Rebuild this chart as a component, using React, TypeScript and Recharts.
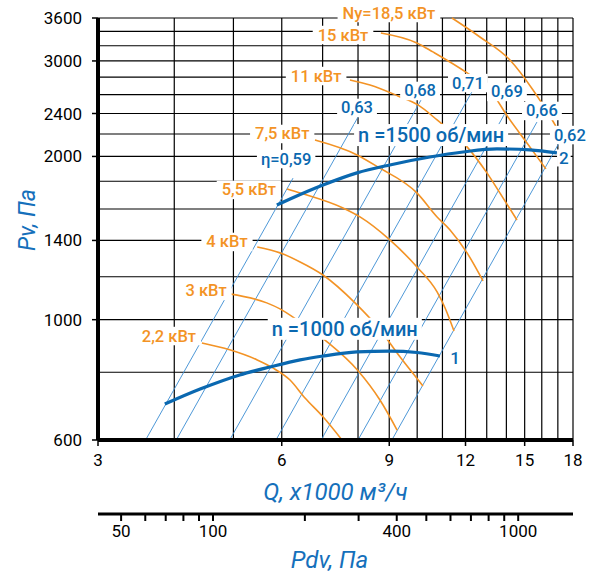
import React from 'react';
import { ComposedChart, Line, Scatter, XAxis, YAxis, CartesianGrid } from 'recharts';

// ---------- data ----------
const qTicks = [3, 6, 9, 12, 15, 18];
const pTicks = [600, 1000, 1400, 2000, 2400, 3000, 3600];
const qGrid = [3, 4, 5, 6, 7, 8, 9, 10, 11, 12, 13, 14, 15, 16, 17, 18];
const pGrid = [600, 800, 1000, 1200, 1400, 1600, 1800, 2000, 2200, 2400, 2600, 2800, 3000, 3200, 3400, 3600];
const pdvTicks = [50, 60, 70, 80, 90, 100, 200, 300, 400, 500, 600, 700, 800, 900, 1000];
const pdvLabeled = [50, 100, 400, 1000];
const qDomain = [3, 18];
const pDomain = [600, 3600];
const pdvDomain = [42, 1512];
const pdvExtent = [{ pdv: 42, p: 600 }, { pdv: 1512, p: 600 }];

// fan curves (Q x1000 m3/h, Pv Pa)
const curve1000 = [
  { q: 3.86, p: 699 }, { q: 4.41, p: 745 }, { q: 5.12, p: 791 }, { q: 5.74, p: 818 },
  { q: 6.43, p: 843 }, { q: 7.01, p: 857 }, { q: 7.97, p: 872 }, { q: 9.02, p: 875 },
  { q: 9.99, p: 870 }, { q: 10.9, p: 857 },
];
const curve1500 = [
  { q: 5.89, p: 1627 }, { q: 6.19, p: 1669 }, { q: 7.01, p: 1771 }, { q: 7.97, p: 1865 },
  { q: 9.02, p: 1929 }, { q: 10.49, p: 1995 }, { q: 11.89, p: 2038 }, { q: 13.51, p: 2065 },
  { q: 15.3, p: 2056 }, { q: 16.94, p: 2030 },
];

// power curves
const power22 = [
  { q: 4.44, p: 906 }, { q: 4.93, p: 880 }, { q: 5.47, p: 843 }, { q: 5.8, p: 815 },
  { q: 6.19, p: 774 }, { q: 6.55, p: 717 }, { q: 7.01, p: 662 }, { q: 7.53, p: 600 },
];
const power3 = [
  { q: 4.93, p: 1116 }, { q: 5.67, p: 1074 }, { q: 5.96, p: 1047 }, { q: 6.43, p: 990 },
  { q: 7.12, p: 910 }, { q: 8.0, p: 805 }, { q: 8.69, p: 711 }, { q: 9.27, p: 626 },
];
const power4 = [
  { q: 5.47, p: 1362 }, { q: 5.96, p: 1328 }, { q: 6.43, p: 1278 }, { q: 7.01, p: 1209 },
  { q: 7.91, p: 1074 }, { q: 8.69, p: 958 }, { q: 9.37, p: 854 }, { q: 10.22, p: 755 },
];
const power55 = [
  { q: 6.12, p: 1742 }, { q: 6.43, p: 1713 }, { q: 7.56, p: 1607 }, { q: 8.06, p: 1547 },
  { q: 9.02, p: 1403 }, { q: 9.99, p: 1251 }, { q: 10.78, p: 1125 }, { q: 11.11, p: 1051 },
  { q: 11.49, p: 953 },
];
const power75 = [
  { q: 6.8, p: 2144 }, { q: 7.97, p: 2013 }, { q: 8.62, p: 1913 }, { q: 9.99, p: 1713 },
  { q: 10.78, p: 1547 }, { q: 11.32, p: 1464 }, { q: 12.07, p: 1328 }, { q: 12.82, p: 1179 },
];
const power11 = [
  { q: 7.76, p: 2767 }, { q: 8.37, p: 2709 }, { q: 9.3, p: 2586 }, { q: 10.03, p: 2489 },
  { q: 10.78, p: 2335 }, { q: 12.07, p: 2083 }, { q: 13.01, p: 1865 }, { q: 13.66, p: 1713 },
  { q: 14.57, p: 1527 },
];
const power15 = [
  { q: 8.72, p: 3378 }, { q: 9.99, p: 3238 }, { q: 10.61, p: 3117 }, { q: 12.07, p: 2851 },
  { q: 13.16, p: 2652 }, { q: 14.08, p: 2365 }, { q: 15.13, p: 2118 }, { q: 16.25, p: 1897 },
];
const power185 = [
  { q: 11.4, p: 3600 }, { q: 12.67, p: 3321 }, { q: 14.19, p: 3012 }, { q: 15.48, p: 2652 },
  { q: 16.07, p: 2489 }, { q: 17.0, p: 2238 }, { q: 17.26, p: 2163 },
];
const powerCurves = [power22, power3, power4, power55, power75, power11, power15, power185];

// efficiency (system) lines
const eff59 = [{ q: 3.59, p: 600 }, { q: 6.26, p: 1824 }];
const eff63 = [{ q: 4.03, p: 600 }, { q: 8.0, p: 2364 }];
const eff68 = [{ q: 4.93, p: 600 }, { q: 10.18, p: 2558 }];
const eff71 = [{ q: 5.87, p: 600 }, { q: 12.3, p: 2634 }];
const eff69 = [{ q: 6.96, p: 600 }, { q: 14.03, p: 2438 }];
const eff66 = [{ q: 8.0, p: 600 }, { q: 15.71, p: 2314 }];
const eff62 = [{ q: 9.09, p: 600 }, { q: 17.07, p: 2116 }];
const effLines = [eff59, eff63, eff68, eff71, eff69, eff66, eff62];

// labels
const powerLabels = [
  { q: 8.99, p: 3600, text: 'Ny=18,5 кВт' },
  { q: 7.56, p: 3349, text: '15 кВт' },
  { q: 6.83, p: 2814, text: '11 кВт' },
  { q: 6.01, p: 2200, text: '7,5 кВт' },
  { q: 5.3, p: 1735, text: '5,5 кВт' },
  { q: 4.88, p: 1391, text: '4 кВт' },
  { q: 4.51, p: 1130, text: '3 кВт' },
  { q: 3.92, p: 933, text: '2,2 кВт' },
];
const effLabels = [
  { q: 6.1, p: 1978, text: 'η=0,59' },
  { q: 7.97, p: 2457, text: '0,63' },
  { q: 10.11, p: 2641, text: '0,68' },
  { q: 12.11, p: 2731, text: '0,71' },
  { q: 14.03, p: 2630, text: '0,69' },
  { q: 16.01, p: 2426, text: '0,66' },
  { q: 17.79, p: 2190, text: '0,62' },
];
const speedLabels = [
  { q: 10.54, p: 2190, text: 'n =1500 об/мин' },
  { q: 7.61, p: 962, text: 'n =1000 об/мин' },
];
const curveLabels = [
  { q: 17.39, p: 1987, text: '2' },
  { q: 11.54, p: 850, text: '1' },
];

// ---------- styles ----------
const FONT = 'Roboto, "DejaVu Sans", sans-serif';
const BLUE = '#0a68b0';
const EFF = '#3a8cd2';
const ORANGE = '#f39325';
const TITLE = '#1570bb';
const nudges: Record<string, number> = { 'Ny=18,5 кВт': -5 };

let ctx: CanvasRenderingContext2D | null = null;
function textWidth(text: string, size: number, weight: number) {
  try {
    if (!ctx) ctx = document.createElement('canvas').getContext('2d');
    if (ctx) {
      ctx.font = `${weight} ${size}px Roboto`;
      return ctx.measureText(text).width;
    }
  } catch (e) {}
  return text.length * size * 0.55;
}

const makeLabelShape = (color: string, size: number, weight: number, padX: number, padY: number) =>
  (props: any) => {
    const { cx, cy, payload } = props;
    if (cx == null || cy == null) return <g />;
    const dy = nudges[payload.text] ?? 0;
    const w = textWidth(payload.text, size, weight) + 2 * padX;
    const h = size + 2 * padY;
    return (
      <g>
        <rect x={cx - w / 2} y={cy + dy - h / 2} width={w} height={h} fill="#fff" />
        <text x={cx} y={cy + dy} textAnchor="middle" dominantBaseline="central" fill={color}
          fontSize={size} fontWeight={weight} fontFamily={FONT}>{payload.text}</text>
      </g>
    );
  };

const powerShape = makeLabelShape(ORANGE, 16.5, 500, 5, 1);
const effShape = makeLabelShape(BLUE, 16.5, 500, 4, 1);
const speedShape = makeLabelShape(BLUE, 20, 500, 4, 1);
const curveShape = makeLabelShape(BLUE, 17, 500, 2, 0);

const tickStyle = { fill: '#000', fontSize: 17, fontFamily: FONT };

export default function App() {
  return (
    <div style={{ position: 'absolute', left: 0, top: 0, width: 592, height: 574, background: '#fff' }}>
      <ComposedChart width={592} height={574} margin={{ top: 18, right: 19, bottom: 0, left: 0 }}>
        <CartesianGrid horizontalValues={pGrid} verticalValues={qGrid} stroke="#000" strokeWidth={1.2} />
        <XAxis
          dataKey="q" type="number" scale="log" domain={qDomain} ticks={qTicks} interval={0}
          height={74} axisLine={{ stroke: '#000', strokeWidth: 4 }} tickLine={{ stroke: '#000', strokeWidth: 1.5 }}
          tickSize={6} tickMargin={8} tick={tickStyle}
          label={{
            content: (props: any) => {
              const vb = props.viewBox;
              return (
                <text x={vb.x + vb.width / 2} y={vb.y + 52} textAnchor="middle" dominantBaseline="central"
                  fill={TITLE} fontSize={24} fontStyle="italic" fontFamily={FONT}>Q, x1000 м³/ч</text>
              );
            },
          }}
        />
        <XAxis
          xAxisId="pdv" dataKey="pdv" type="number" scale="log" domain={pdvDomain} allowDataOverflow ticks={pdvTicks} interval={0}
          tickFormatter={(v: number) => (pdvLabeled.includes(v) ? String(v) : '')}
          height={60} axisLine={{ stroke: '#000', strokeWidth: 3 }} tickLine={{ stroke: '#000', strokeWidth: 2 }}
          tickSize={7} tickMargin={4} tick={tickStyle}
          label={{
            content: (props: any) => {
              const vb = props.viewBox;
              return (
                <text x={vb.x + vb.width / 2 - 6} y={vb.y + 46} textAnchor="middle" dominantBaseline="central"
                  fill={TITLE} fontSize={24} fontStyle="italic" fontFamily={FONT}>Pdv, Па</text>
              );
            },
          }}
        />
        <YAxis
          dataKey="p" type="number" scale="log" domain={pDomain} ticks={pTicks} interval={0}
          width={98} axisLine={{ stroke: '#000', strokeWidth: 4 }} tickLine={{ stroke: '#000', strokeWidth: 1.5 }}
          tickSize={6} tickMargin={10} tick={tickStyle}
          label={{
            content: (props: any) => {
              const vb = props.viewBox;
              const x = vb.x + 27;
              const y = vb.y + 202;
              return (
                <text x={x} y={y} transform={`rotate(-90, ${x}, ${y})`} textAnchor="middle" dominantBaseline="central"
                  fill={TITLE} fontSize={23} fontStyle="italic" fontFamily={FONT}>Pv, Па</text>
              );
            },
          }}
        />
        <Line xAxisId="pdv" data={pdvExtent} dataKey="p" stroke="none" dot={false} activeDot={false}
          isAnimationActive={false} />
        {effLines.map((d, i) => (
          <Line key={'eff' + i} data={d} dataKey="p" type="linear" stroke={EFF} strokeWidth={0.9}
            dot={false} activeDot={false} isAnimationActive={false} />
        ))}
        {powerCurves.map((d, i) => (
          <Line key={'pw' + i} data={d} dataKey="p" type="monotone" stroke={ORANGE} strokeWidth={1.6}
            dot={false} activeDot={false} isAnimationActive={false} />
        ))}
        <Line data={curve1000} dataKey="p" type="monotone" stroke={BLUE} strokeWidth={3.2}
          dot={false} activeDot={false} isAnimationActive={false} />
        <Line data={curve1500} dataKey="p" type="monotone" stroke={BLUE} strokeWidth={3.2}
          dot={false} activeDot={false} isAnimationActive={false} />
        <Scatter data={powerLabels} dataKey="p" shape={powerShape} isAnimationActive={false} />
        <Scatter data={effLabels} dataKey="p" shape={effShape} isAnimationActive={false} />
        <Scatter data={speedLabels} dataKey="p" shape={speedShape} isAnimationActive={false} />
        <Scatter data={curveLabels} dataKey="p" shape={curveShape} isAnimationActive={false} />
      </ComposedChart>
    </div>
  );
}
